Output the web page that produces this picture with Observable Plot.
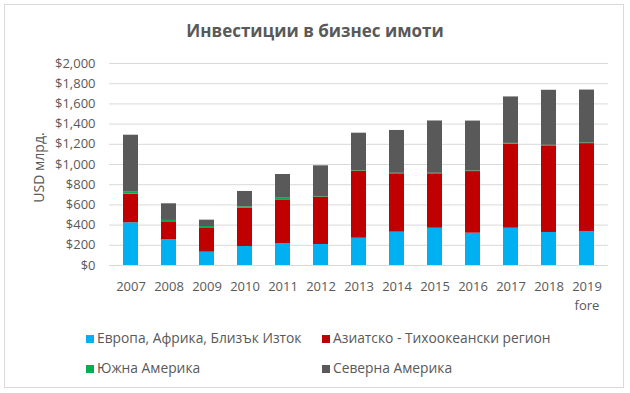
<!DOCTYPE html>
<html>
<head>
<meta charset="utf-8">
<script src="https://cdn.jsdelivr.net/npm/d3@7"></script>
<script src="https://cdn.jsdelivr.net/npm/@observablehq/plot@0.6"></script>
<style>
  html, body { margin: 0; padding: 0; background: #fff; }
  #frame { position: relative; width: 630px; height: 393px; overflow: hidden; font-family: "Open Sans", sans-serif; }
  #border { position: absolute; left: 4px; top: 4px; width: 620px; height: 384px; border: 1px solid #d9d9d9; box-sizing: border-box; }
  #title { position: absolute; left: 0; width: 630px; top: 19px; text-align: center; font-size: 17px; font-weight: bold; color: #595959; }
  #chart { position: absolute; left: 0; top: 40px; }
  .leg { position: absolute; font-size: 13.8px; color: #595959; white-space: nowrap; }
  .leg span.sw { display: inline-block; width: 8px; height: 8px; margin-right: 3px; vertical-align: 0px; }
</style>
</head>
<body>
<div id="frame">
  <div id="border"></div>
  <div id="title">Инвестиции в бизнес имоти</div>
  <div id="chart"></div>
  <div id="legend"></div>
</div>
<script>
const years = ["2007","2008","2009","2010","2011","2012","2013","2014","2015","2016","2017","2018","2019"];
const yearLabels = ["2007","2008","2009","2010","2011","2012","2013","2014","2015","2016","2017","2018","2019\nfore"];
const seriesNames = ["Европа, Африка, Близък Изток", "Азиатско - Тихоокеански регион", "Южна Америка", "Северна Америка"];
const seriesColors = ["#00B0F0", "#C00000", "#00B050", "#595959"];
const europe  = [423, 254, 132, 188, 218, 208, 270, 330, 369, 320, 369, 327, 337];
const asia    = [283, 179, 241, 379, 426, 470, 665, 571, 532, 610, 832, 858, 870];
const southAm = [20, 13, 13, 14, 22, 5, 5, 12, 12, 5, 8, 5, 5];
const northAm = [564, 165, 63, 152, 235, 304, 370, 424, 518, 495, 460, 545, 525];
const yTicks = [0, 200, 400, 600, 800, 1000, 1200, 1400, 1600, 1800, 2000];

const seriesValues = [europe, asia, southAm, northAm];
const rows = [];
years.forEach((y, i) => {
  seriesNames.forEach((s, j) => rows.push({year: y, series: s, value: seriesValues[j][i]}));
});
const labelMap = new Map(years.map((y, i) => [y, yearLabels[i]]));

const plot = Plot.plot({
  width: 630,
  height: 280,
  marginLeft: 109,
  marginRight: 22,
  marginTop: 23,
  marginBottom: 55,
  style: {fontFamily: "Open Sans, sans-serif", fontSize: "13px", color: "#595959", background: "transparent"},
  x: {domain: years, paddingInner: 0.61, paddingOuter: 0.3, label: null, tickSize: 0, tickPadding: 13, tickFormat: d => labelMap.get(d)},
  y: {domain: [0, 2000], ticks: yTicks, label: null, tickSize: 0, tickPadding: 14, tickFormat: d => "$" + d3.format(",")(d)},
  color: {domain: seriesNames, range: seriesColors},
  marks: [
    Plot.gridY(yTicks, {stroke: "#d9d9d9", strokeOpacity: 1, strokeWidth: 1}),
    Plot.axisY({ticks: yTicks, tickSize: 0, tickPadding: 14, label: null, tickFormat: d => "$" + d3.format(",")(d), fill: "#595959"}),
    Plot.axisX({tickSize: 0, tickPadding: 13, label: null, tickFormat: d => labelMap.get(d), fill: "#595959", lineHeight: 1.4}),
    Plot.barY(rows, Plot.stackY({x: "year", y: "value", fill: "series", order: seriesNames})),
    Plot.text(["USD млрд."], {frameAnchor: "left", textAnchor: "middle", dx: -70, dy: 3, rotate: -90, fill: "#595959", fontSize: 14})
  ]
});
document.getElementById("chart").appendChild(plot);

const legend = document.getElementById("legend");
const pos = [[86, 328], [322, 328], [86, 358], [322, 358]];
seriesNames.forEach((s, i) => {
  const d = document.createElement("div");
  d.className = "leg";
  d.style.left = pos[i][0] + "px";
  d.style.top = pos[i][1] + "px";
  d.innerHTML = `<span class="sw" style="background:${seriesColors[i]}"></span>${s}`;
  legend.appendChild(d);
});
</script>
</body>
</html>
